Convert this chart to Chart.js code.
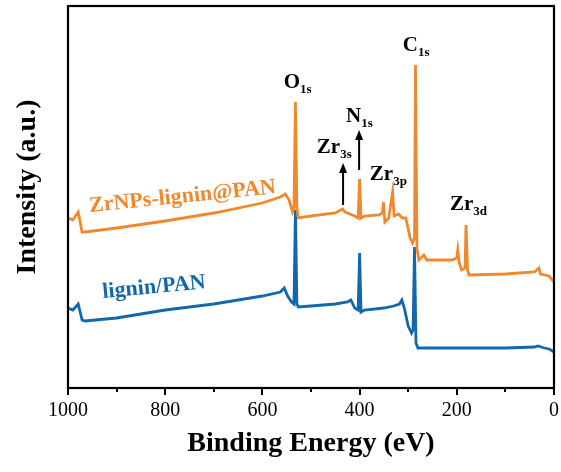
<!DOCTYPE html>
<html>
<head>
<meta charset="utf-8">
<script src="https://cdn.jsdelivr.net/npm/chart.js@4.4.0/dist/chart.umd.min.js"></script>
<style>
  html, body { margin: 0; padding: 0; background: #fff; }
  #wrap { width: 561px; height: 472px; }
</style>
</head>
<body>
<div id="wrap"><canvas id="xps"></canvas></div>
<script>
// binding energy (eV) / intensity (a.u.)
const zrEnergy = [1000, 990, 979, 971, 965, 900, 800, 700, 600, 563, 553, 545, 538, 535, 532, 529, 526, 500, 450, 435, 430, 410, 403, 400, 397, 390, 360, 353, 351, 348, 340, 332, 329, 320, 312, 305, 296, 291, 287, 285, 282, 278, 268, 262, 210, 200, 198, 195, 190, 183, 181, 178, 175, 100, 40, 31, 28, 10, 0];
const zrIntensity = [170, 168, 176, 156, 156, 160, 167, 175, 185, 191, 194, 188, 176, 180, 286, 180, 170, 172, 175, 179, 176, 172, 170, 209, 170, 172, 173, 175, 186, 166, 170, 196, 172, 174, 170, 170, 150, 145, 150, 323, 140, 128, 133, 128, 128, 130, 138, 125, 118, 120, 163, 118, 113, 114, 116, 120, 114, 112, 106];

const lpEnergy = [1000, 990, 979, 971, 965, 900, 800, 700, 600, 563, 555, 548, 540, 535, 532, 529, 526, 500, 450, 425, 418, 410, 403, 400, 397, 390, 350, 330, 318, 313, 308, 300, 293, 290, 287, 284, 280, 270, 200, 100, 40, 33, 20, 10, 0];
const lpIntensity = [80, 78, 84, 68, 67, 70, 78, 84, 92, 96, 100, 92, 86, 84, 178, 84, 81, 82, 84, 86, 88, 80, 78, 135, 76, 78, 80, 82, 84, 88, 80, 62, 55, 58, 141, 45, 40, 40, 40, 40, 41, 42, 40, 39, 36];

const xTicks = [1000, 800, 600, 400, 200, 0];

// peak labels: [main, subscript, energy, intensity]
const peakLabels = [
  ['O', '1s', 556, 300],
  ['C', '1s', 311, 337],
  ['N', '1s', 428, 266],
  ['Zr', '3s', 488, 235],
  ['Zr', '3p', 379, 208],
  ['Zr', '3d', 214, 178]
];
// arrows: [energy, from intensity, to intensity]
const arrows = [
  [434, 183, 225],
  [401, 218, 258]
];

const orange = 'rgb(240,137,45)';
const blue = 'rgb(18,104,170)';
const serif = '"Liberation Serif", "Times New Roman", serif';

const pts = (xs, ys) => xs.map((x, i) => ({ x: x, y: ys[i] }));

const decor = {
  id: 'decor',
  afterDraw(chart) {
    const { ctx, chartArea: a, scales: { x, y } } = chart;
    ctx.save();
    // frame
    ctx.strokeStyle = '#000';
    ctx.lineWidth = 2.2;
    ctx.strokeRect(a.left, a.top, a.right - a.left, a.bottom - a.top);
    // ticks
    ctx.lineWidth = 2;
    for (let e = 0; e <= 1000; e += 100) {
      const px = Math.round(x.getPixelForValue(e));
      const len = e % 200 === 0 ? 7 : 4;
      ctx.beginPath();
      ctx.moveTo(px, a.bottom);
      ctx.lineTo(px, a.bottom + len);
      ctx.stroke();
    }
    // y title
    ctx.save();
    ctx.translate(28, 187);
    ctx.rotate(-Math.PI / 2);
    ctx.fillStyle = '#000';
    ctx.font = 'bold 28px ' + serif;
    ctx.textAlign = 'center';
    ctx.textBaseline = 'middle';
    ctx.fillText('Intensity (a.u.)', 0, 0);
    ctx.restore();
    // peak labels
    ctx.fillStyle = '#000';
    ctx.textBaseline = 'alphabetic';
    peakLabels.forEach(([m, s, e, v]) => {
      const px = x.getPixelForValue(e), py = y.getPixelForValue(v);
      ctx.font = 'bold 21px ' + serif;
      const w = ctx.measureText(m).width;
      ctx.textAlign = 'left';
      ctx.fillText(m, px, py);
      ctx.font = 'bold 13px ' + serif;
      ctx.fillText(s, px + w, py + 5);
    });
    // arrows
    ctx.lineWidth = 2;
    arrows.forEach(([e, v0, v1]) => {
      const px = x.getPixelForValue(e);
      const y0 = y.getPixelForValue(v0), y1 = y.getPixelForValue(v1);
      ctx.beginPath();
      ctx.moveTo(px, y0);
      ctx.lineTo(px, y1 + 6);
      ctx.stroke();
      ctx.beginPath();
      ctx.moveTo(px, y1);
      ctx.lineTo(px - 4, y1 + 10);
      ctx.lineTo(px + 4, y1 + 10);
      ctx.closePath();
      ctx.fill();
    });
    // series names
    const name = (txt, col, e, v, ang) => {
      ctx.save();
      ctx.translate(x.getPixelForValue(e), y.getPixelForValue(v));
      ctx.rotate(ang * Math.PI / 180);
      ctx.fillStyle = col;
      ctx.font = 'bold 22px ' + serif;
      ctx.textAlign = 'left';
      ctx.fillText(txt, 0, 0);
      ctx.restore();
    };
    name('ZrNPs-lignin@PAN', orange, 955, 176, -5.8);
    name('lignin/PAN', blue, 928, 90, -5.4);
    ctx.restore();
  }
};

new Chart(document.getElementById('xps'), {
  type: 'line',
  data: {
    datasets: [
      { label: 'ZrNPs-lignin@PAN', data: pts(zrEnergy, zrIntensity), borderColor: orange, borderWidth: 2.8, pointRadius: 0, tension: 0 },
      { label: 'lignin/PAN', data: pts(lpEnergy, lpIntensity), borderColor: blue, borderWidth: 2.8, pointRadius: 0, tension: 0 }
    ]
  },
  options: {
    responsive: true,
    maintainAspectRatio: false,
    animation: false,
    layout: { padding: { left: 0, right: 7, top: 6, bottom: 0 } },
    plugins: { legend: { display: false }, tooltip: { enabled: false } },
    scales: {
      x: {
        type: 'linear',
        reverse: true,
        min: 0,
        max: 1000,
        afterBuildTicks(s) { s.ticks = xTicks.map(v => ({ value: v })); },
        afterFit(s) { s.height = 84; s.paddingLeft = 0; s.paddingRight = 0; },
        grid: { display: false },
        border: { display: false },
        ticks: { color: '#000', font: { family: serif, size: 20 }, padding: 3, maxRotation: 0, callback: v => String(v) },
        title: { display: true, text: 'Binding Energy (eV)', color: '#000', font: { family: serif, size: 28, weight: 'bold' }, padding: { top: 4, bottom: 11 } }
      },
      y: {
        min: 0,
        max: 382,
        afterFit(s) { s.width = 68; },
        grid: { display: false },
        border: { display: false },
        ticks: { display: false },
        title: { display: false }
      }
    }
  },
  plugins: [decor]
});
</script>
</body>
</html>
